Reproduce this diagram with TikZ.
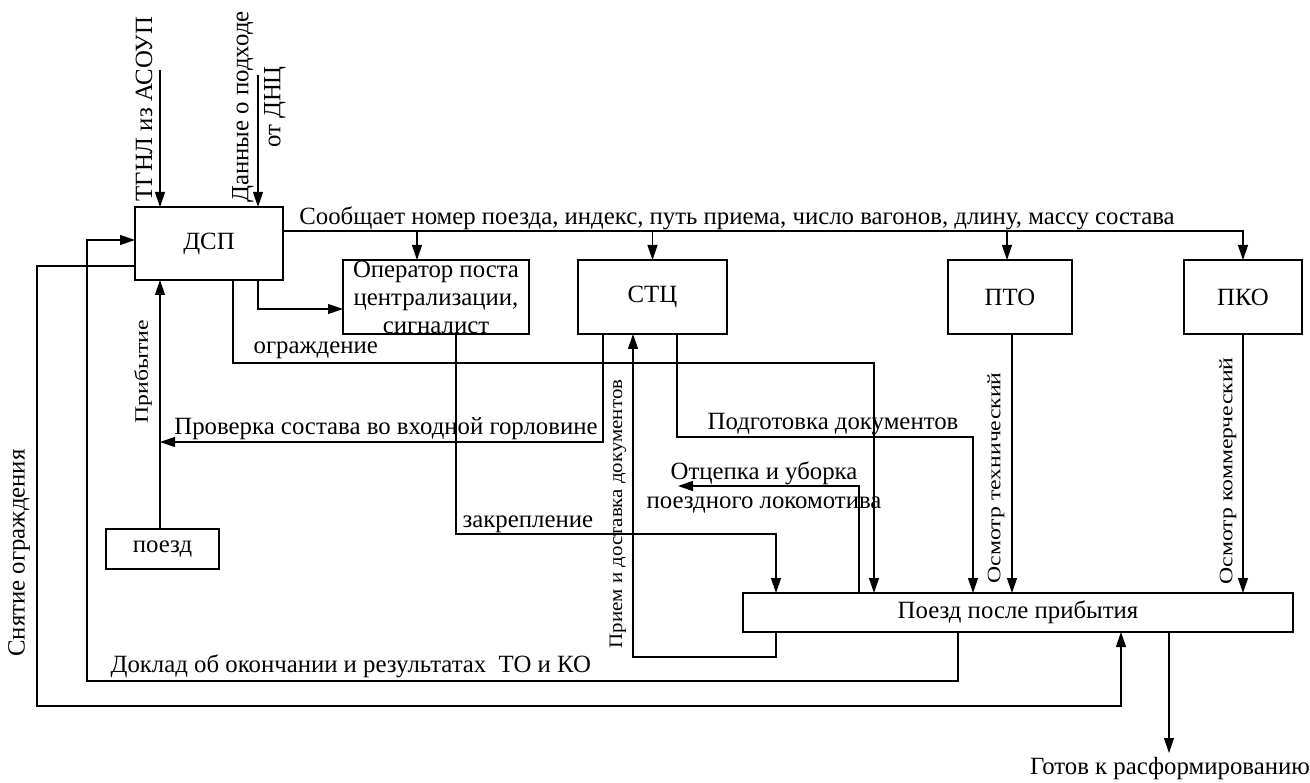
\documentclass[tikz,border=0pt]{standalone}
\usepackage{fontspec}
\setmainfont{Liberation Serif}
\usepackage{graphicx}
\usetikzlibrary{arrows.meta}
% labels on the flow lines are set a little wider than tall
\newcommand{\widen}[2][1.25]{\scalebox{#1}[1]{#2}}
\begin{document}
\begin{tikzpicture}[x=1pt,y=-1pt, line width=1.2pt,
  txt/.style={font=\fontsize{24.8}{28}\selectfont, inner sep=0pt},
  small/.style={font=\fontsize{19}{23}\selectfont, inner sep=0pt},
  blk/.style={draw, inner sep=0pt, outer sep=0pt, font=\fontsize{24.8}{28}\selectfont},
  arr/.style={-{Triangle[length=15pt,width=10pt]}}]
\fill[white] (0,0) rectangle (1310,783);
\useasboundingbox (0,0) rectangle (1310,783);

% blocks
\node[blk, minimum width=148pt, minimum height=73pt] (dsp) at (209,243.5) {ДСП};
\node[blk, minimum width=186pt, minimum height=74pt] (op) at (436,297) {};
\node[txt, align=center] (optext) at (436,297) {Оператор поста\\централизации,\\сигналист};
\node[blk, minimum width=149pt, minimum height=74pt] (stc) at (652.5,297) {СТЦ};
\node[blk, minimum width=124pt, minimum height=74pt] (pto) at (1010,297) {ПТО};
\node[blk, minimum width=118pt, minimum height=74pt] (pko) at (1243,297) {ПКО};
\node[blk, minimum width=113pt, minimum height=40pt] (train) at (162.5,549) {поезд};
\node[blk, minimum width=550pt, minimum height=39pt] (after) at (1018,612.5) {Поезд после прибытия};

% inputs of the dispatcher
\coordinate (tgnl) at (160,70);
\coordinate (dnc) at (258,75);
\draw[arr] (tgnl) -- (dsp.north -| tgnl);
\draw[arr] (dnc) -- (dsp.north -| dnc);
\node[txt, rotate=90] (tgnllbl) at (144,109) {ТГНЛ из АСОУП};
\node[txt, rotate=90] (dnclbl1) at (243,107) {Данные о подходе};
\node[txt, rotate=90] (dnclbl2) at (275,107) {от ДНЦ};

% message bus to all services
\draw[arr] (dsp.east |- 0,231) -| (pko.north);
\draw[arr] (417,231) -- (op.north -| 417,0);
\draw[arr] (stc.north |- 0,231) -- (stc.north);
\draw[arr] (1007,231) -- (pto.north -| 1007,0);
\node[txt, anchor=base] (buslbl) at (737,225) {Сообщает номер поезда, индекс, путь приема, число вагонов, длину, массу состава};

% dispatcher to operator
\draw[arr] (dsp.south -| 258,0) |- (op.west |- 0,309);

% guarding
\draw[arr] (dsp.south -| 233,0) |- (874,363) -- (after.north -| 874,0);
\node[txt, anchor=base west] (guardlbl) at (253,354) {ограждение};

% securing
\draw[arr] (op.south -| 456,0) |- (776,534) -- (after.north -| 776,0);
\node[txt, anchor=base west] (securelbl) at (462,527) {закрепление};

% train arrival
\coordinate (chk) at (160,442);
\draw[arr] (train.north -| 160,0) -- (dsp.south -| 160,0);
\node[small, rotate=90] (arrlbl) at (143,372) {\widen{Прибытие}};
\draw[arr] (stc.south -| 603,0) |- (chk);
\node[txt, anchor=base] (chklbl) at (386,435) {Проверка состава во входной горловине};

% documents
\draw[arr] (stc.south -| 677,0) |- (973,437) -- (after.north -| 973,0);
\node[txt, anchor=base] (doclbl) at (833,430) {Подготовка документов};

% locomotive
\coordinate (loco) at (678,486);
\draw[arr] (after.north -| 859,0) |- (loco);
\node[txt, anchor=base] (locolbl1) at (764,479) {Отцепка и уборка};
\node[txt, anchor=base] (locolbl2) at (764,508) {поездного локомотива};

% inspections
\draw[arr] (pto.south -| 1012,0) -- (after.north -| 1012,0);
\node[small, rotate=90] (techlbl) at (996,478) {\widen{Осмотр технический}};
\draw[arr] (pko.south) -- (after.north -| pko.south);
\node[small, rotate=90] (commlbl) at (1228,471) {\widen{Осмотр коммерческий}};

% documents back to the centre
\draw[arr] (after.south -| 776,0) |- (633,657) -- (stc.south -| 633,0);
\node[small, rotate=90] (rcvlbl) at (618,514) {\widen[1.1]{Прием и доставка документов}};

% report to the dispatcher
\draw[arr] (after.south -| 958,0) |- (87,681) |- (dsp.west |- 0,240);
\node[txt, anchor=base west] (replbl) at (110,672) {Доклад об окончании и результатах~~ТО и КО};

% guard removal
\draw[arr] (dsp.west |- 0,266) -| (37,706) -| (after.south -| 1121,0);
\node[txt, rotate=90] (remlbl) at (19,553) {Снятие ограждения};

% output
\coordinate (done) at (1169,753);
\draw[arr] (after.south -| done) -- (done);
\node[txt] (donelbl) at (1170,769) {Готов к расформированию};
\end{tikzpicture}
\end{document}
